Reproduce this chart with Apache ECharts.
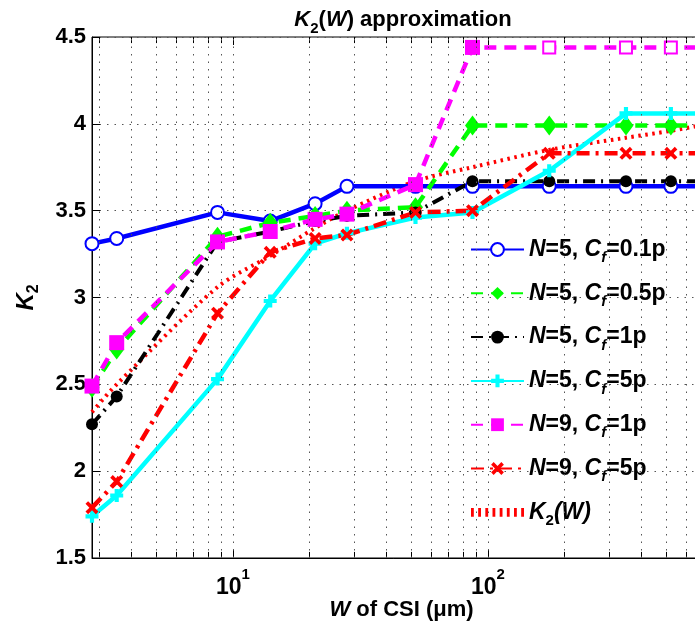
<!DOCTYPE html>
<html>
<head>
<meta charset="utf-8">
<script src="https://cdn.jsdelivr.net/npm/echarts@6/dist/echarts.min.js"></script>
<style>html,body{margin:0;padding:0;background:#fff}#c{width:695px;height:624px}</style>
</head>
<body>
<div id="c"></div>
<script>
// ---- data ----
const W = [2.8, 3.5, 8.7, 14, 21, 28, 52, 87, 174, 348, 522, 870];
const k_n5_c01 = [3.31, 3.34, 3.49, 3.44, 3.54, 3.64, 3.64, 3.64, 3.64, 3.64, 3.64, 3.64];
const k_n5_c05 = [2.48, 2.70, 3.35, 3.43, 3.47, 3.50, 3.52, 3.99, 3.99, 3.99, 3.99, 3.99];
const k_n5_c1  = [2.27, 2.43, 3.32, 3.38, 3.44, 3.47, 3.49, 3.67, 3.67, 3.67, 3.67, 3.67];
const k_n5_c5  = [1.74, 1.86, 2.53, 2.98, 3.31, 3.37, 3.46, 3.49, 3.73, 4.06, 4.06, 4.06];
const k_n9_c1  = [2.49, 2.74, 3.32, 3.38, 3.45, 3.48, 3.65, 4.44, 4.44, 4.44, 4.44, 4.44];
const k_n9_c5  = [1.79, 1.94, 2.91, 3.26, 3.34, 3.36, 3.49, 3.50, 3.83, 3.83, 3.83, 3.83];
const k2Fit    = [2.34, 2.50, 3.06, 3.24, 3.40, 3.50, 3.67, 3.75, 3.85, 3.92, 3.96, 4.02];
const seriesNames = ['N=5, Cf=0.1p', 'N=5, Cf=0.5p', 'N=5, Cf=1p', 'N=5, Cf=5p', 'N=9, Cf=1p', 'N=9, Cf=5p', 'K2(W)'];
const legendRich = [
  '{i|N}{n|=5, }{i|C}{s|f}{n|=0.1p}',
  '{i|N}{n|=5, }{i|C}{s|f}{n|=0.5p}',
  '{i|N}{n|=5, }{i|C}{s|f}{n|=1p}',
  '{i|N}{n|=5, }{i|C}{s|f}{n|=5p}',
  '{i|N}{n|=9, }{i|C}{s|f}{n|=1p}',
  '{i|N}{n|=9, }{i|C}{s|f}{n|=5p}',
  '{i|K}{s2|2}{i|(W)}'
];
const xMin = 2.8, xMax = 750;
const yTicks = [1.5, 2, 2.5, 3, 3.5, 4, 4.5];
const xLabels = {10: '{b|10}{sup|1}', 100: '{b|10}{sup|2}'};
const gridW = [3, 4, 5, 6, 7, 8, 9, 10, 20, 30, 40, 50, 60, 70, 80, 90, 100, 200, 300, 400, 500, 600, 700];

const FF = '"Liberation Sans", Arial, sans-serif';
const pts = ys => W.map((w, i) => [w, ys[i]]);
const plusPath = 'path://M3.4,0h3.2v3.4h3.4v3.2h-3.4v3.4h-3.2v-3.4h-3.4v-3.2h3.4z';
const xPath = 'path://M0,2L2,0L5,3L8,0L10,2L7,5L10,8L8,10L5,7L2,10L0,8L3,5z';
let dotted = '';
for (let k = 0; k < 8; k++) dotted += 'M' + (k * 6.6) + ',0h2.6v8h-2.6z';
const dottedIcon = 'path://' + dotted;

const chart = echarts.init(document.getElementById('c'), null, {renderer: 'canvas'});
const gridLine = {color: '#555', width: 1, type: [1.5, 6]};

function mkSeries(i, ys, opt) {
  return Object.assign({
    name: seriesNames[i], type: 'line', data: pts(ys), clip: true,
    emphasis: {disabled: true}, z: 3
  }, opt);
}

const minorTickData = [];
gridW.forEach(w => {
  minorTickData.push([{coord: [w, 1.5]}, {coord: [w, 1.535]}]);
  minorTickData.push([{coord: [w, 4.465]}, {coord: [w, 4.5]}]);
});

const main = (size, italic) => ({fontFamily: FF, fontSize: size, fontWeight: 'bold', fontStyle: italic ? 'italic' : 'normal', color: '#000', lineHeight: 32, verticalAlign: 'middle'});
const sub = (size, italic) => ({fontFamily: FF, fontSize: size, fontWeight: 'bold', fontStyle: italic ? 'italic' : 'normal', color: '#000', lineHeight: 14, verticalAlign: 'bottom'});

const option = {
  animation: false,
  backgroundColor: '#fff',
  title: {
    text: '{ki|K}{sub|2}{n|(}{ki|W}{n|) approximation}',
    left: 398, top: -1, textAlign: 'center',
    textStyle: {rich: {ki: main(22, true), n: main(22, false), sub: sub(15, false)}}
  },
  grid: {left: 92, right: -16, top: 37, bottom: 66, show: true, borderColor: '#000', borderWidth: 1,
    backgroundColor: 'transparent', outerBoundsMode: 'none', containLabel: false},
  legend: {
    orient: 'vertical', left: 470, top: 238, padding: 0,
    itemWidth: 53, itemHeight: 16, itemGap: 16.3,
    data: seriesNames.map((n, i) => i === 6 ? {name: n, icon: dottedIcon, itemStyle: {color: '#ff0000'}} : {name: n}),
    formatter: name => legendRich[seriesNames.indexOf(name)],
    textStyle: {rich: {i: main(23, true), n: main(23, false), s: sub(15, true), s2: sub(15, false)}}
  },
  xAxis: [{
    type: 'log', logBase: 10, min: xMin, max: xMax,
    name: '{wi|W}{n| of CSI (μm)}', nameLocation: 'middle', nameGap: 41, nameMoveOverlap: false,
    nameTextStyle: {
      rich: {
        wi: {fontFamily: FF, fontSize: 22, fontWeight: 'bold', fontStyle: 'italic', color: '#000'},
        n: {fontFamily: FF, fontSize: 22, fontWeight: 'bold', color: '#000'}
      }
    },
    axisLine: {show: true, lineStyle: {color: '#000', width: 1}},
    axisTick: {show: true, inside: true, length: 8, lineStyle: {color: '#000'}},
    axisLabel: {
      margin: 9, showMinLabel: false, showMaxLabel: false,
      formatter: v => xLabels[Math.round(v)] && Math.abs(v - Math.round(v)) < 1e-6 ? xLabels[Math.round(v)] : '',
      rich: {
        b: {fontFamily: FF, fontSize: 23, fontWeight: 'bold', color: '#000', lineHeight: 32, verticalAlign: 'bottom'},
        sup: {fontFamily: FF, fontSize: 15, fontWeight: 'bold', color: '#000', lineHeight: 32, verticalAlign: 'top'}
      }
    },
    splitLine: {show: false}
  }, {
    type: 'log', logBase: 10, min: xMin, max: xMax, position: 'top',
    axisLine: {show: false}, axisLabel: {show: false}, splitLine: {show: false},
    axisTick: {show: true, inside: true, length: 8, lineStyle: {color: '#000'}}
  }],
  yAxis: {
    type: 'value', min: 1.5, max: 4.5, interval: 0.5,
    name: '{ki|K}{sub|2}', nameLocation: 'middle', nameGap: 50, nameRotate: 90, nameMoveOverlap: false,
    nameTextStyle: {rich: {ki: main(24, true), sub: sub(16, false)}},
    axisLine: {show: true, lineStyle: {color: '#000', width: 1}},
    axisTick: {show: true, inside: true, length: 8, lineStyle: {color: '#000'}},
    axisLabel: {fontFamily: FF, fontSize: 22, fontWeight: 'bold', color: '#000', margin: 6,
      formatter: v => yTicks.includes(v) ? String(v) : ''},
    splitLine: {show: true, lineStyle: gridLine}
  },
  series: [
    mkSeries(0, k_n5_c01, {color: '#0000ff', lineStyle: {width: 4.5, type: 'solid'},
      symbol: 'emptyCircle', symbolSize: 13, itemStyle: {borderWidth: 3.5, color: '#0000ff'}}),
    mkSeries(1, k_n5_c05, {color: '#00ff00', lineStyle: {width: 4.5, type: [12, 8]},
      symbol: 'diamond', symbolSize: [15, 20], itemStyle: {color: '#00ff00'}}),
    mkSeries(2, k_n5_c1, {color: '#000000', lineStyle: {width: 4, type: [12, 6, 2, 6]},
      symbol: 'circle', symbolSize: 12, itemStyle: {color: '#000'}}),
    mkSeries(3, k_n5_c5, {color: '#00ffff', lineStyle: {width: 4.5, type: 'solid'},
      symbol: plusPath, symbolSize: 13, itemStyle: {color: '#00ffff'}}),
    mkSeries(4, k_n9_c1, {color: '#ff00ff', lineStyle: {width: 4.5, type: [12, 8]},
      symbol: 'rect', symbolSize: 15, itemStyle: {color: '#ff00ff'},
      data: W.map((w, i) => i >= 8 ? {value: [w, k_n9_c1[i]], symbol: 'emptyRect', symbolSize: 12, itemStyle: {borderWidth: 5, borderColor: '#ff00ff'}} : [w, k_n9_c1[i]])}),
    mkSeries(5, k_n9_c5, {color: '#ff0000', lineStyle: {width: 4.5, type: [13, 6, 3, 6]},
      symbol: xPath, symbolSize: 13, itemStyle: {color: '#ff0000'}}),
    mkSeries(6, k2Fit, {color: '#ff0000', lineStyle: {width: 4, type: [2.5, 4.5]},
      symbol: 'none', smooth: 0.3, z: 2,
      markLine: {silent: true, symbol: ['none', 'none'], label: {show: false}, animation: false,
        lineStyle: {color: '#000', width: 1, type: 'solid'}, data: minorTickData}}),
    {
      type: 'line', data: [], silent: true, z: 1,
      markLine: {silent: true, symbol: ['none', 'none'], label: {show: false}, animation: false,
        lineStyle: gridLine, data: gridW.map(w => ({xAxis: w}))}
    }
  ]
};

chart.setOption(option);
</script>
</body>
</html>
